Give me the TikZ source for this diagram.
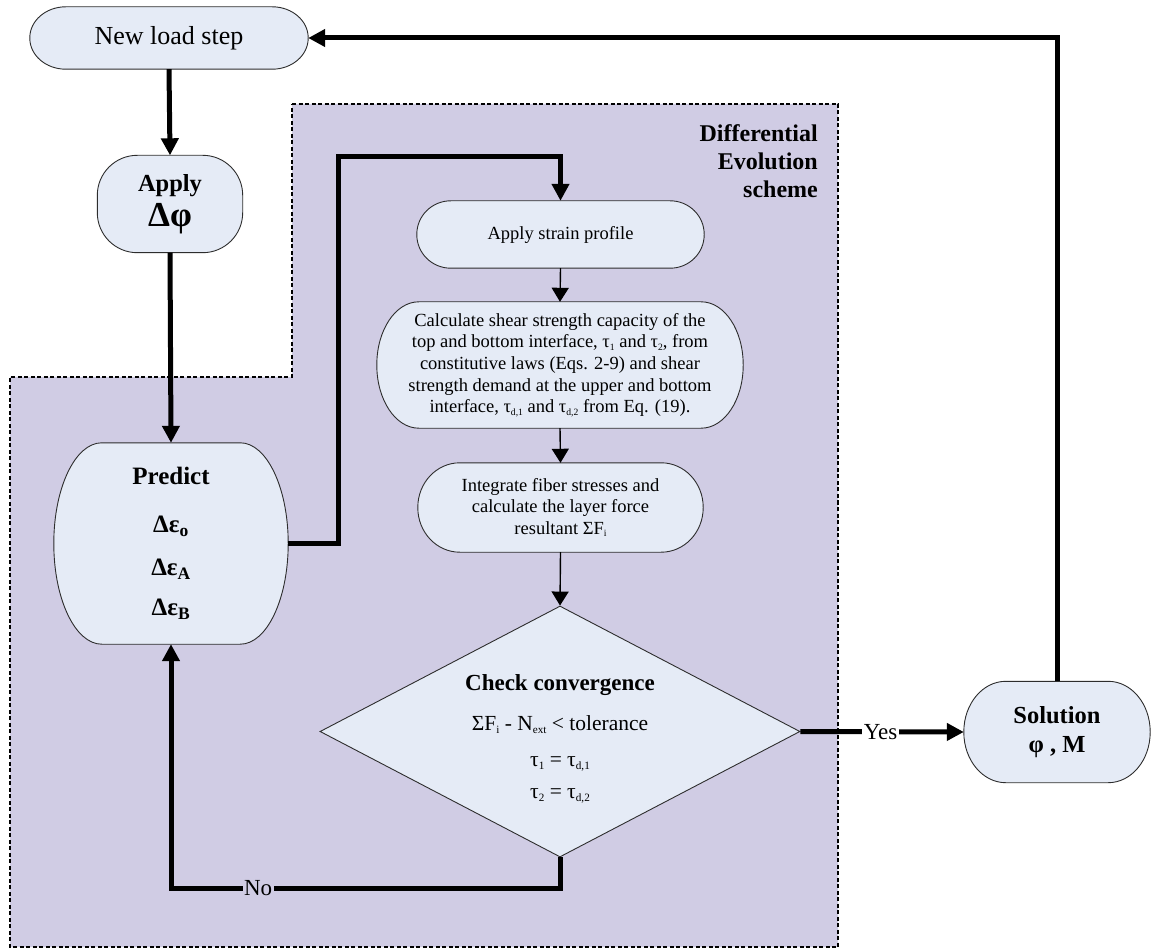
\documentclass[tikz,border=0pt]{standalone}
\usepackage{fontspec}
\usepackage{graphicx}
\setmainfont{Liberation Serif}
\usetikzlibrary{arrows.meta,calc,shapes.geometric}
\pgfdeclarelayer{back}\pgfdeclarelayer{bg}
\pgfsetlayers{back,bg,main}
\definecolor{regfill}{RGB}{208,204,228}
\definecolor{boxfill}{RGB}{229,235,246}
\definecolor{edgecol}{RGB}{45,45,45}
\newcommand\sbs[1]{\raisebox{-0.28ex}{\scalebox{0.52}{#1}}}
\newcommand\rrshape[3]{%
 \path[shp] ($(#1.north west)+(#2,0)$) -- ($(#1.north east)+(-#2,0)$)
 arc[start angle=90,end angle=0,x radius=#2,y radius=#3]
 -- ($(#1.south east)+(0,#3)$)
 arc[start angle=0,end angle=-90,x radius=#2,y radius=#3]
 -- ($(#1.south west)+(#2,0)$)
 arc[start angle=270,end angle=180,x radius=#2,y radius=#3]
 -- ($(#1.north west)+(0,-#3)$)
 arc[start angle=180,end angle=90,x radius=#2,y radius=#3]
 -- cycle;}
\begin{document}
\begin{tikzpicture}[x=1pt,y=1pt,
 txt/.style={inner sep=0pt, align=center, text=black},
 shp/.style={fill=boxfill, draw=edgecol, line width=0.9pt},
 thickarrow/.style={line width=5pt, -{Triangle[length=17pt,width=17pt]}},
 thinarrow/.style={line width=1.4pt, -{Triangle[length=14pt,width=17pt]}},
 small/.style={font=\fontsize{18.5}{21.7}\selectfont},
 lbl/.style={inner sep=1.5pt, font=\fontsize{23}{26}\selectfont}]
\useasboundingbox (0,0) rectangle (1151,-949);
\begin{pgfonlayer}{back}
\draw[fill=regfill, line width=1.8pt, dash pattern=on 4pt off 2.5pt]
 (292,-104) -- (838,-104) -- (838,-947) -- (10,-947) -- (10,-377) -- (292,-377) -- cycle;
\end{pgfonlayer}

\node[txt, minimum width=278pt, minimum height=62pt, font=\fontsize{26}{30}\selectfont] (new) at (169,-38) {New load step};
\node[txt, minimum width=145pt, minimum height=97pt, font=\bfseries\fontsize{24.5}{35}\selectfont] (apply) at (170,-204) {Apply\\{\fontsize{35}{35}\selectfont Δφ}};
\node[txt, minimum width=234pt, minimum height=201pt, font=\bfseries\fontsize{25}{40}\selectfont] (pred) at (171,-543.5)
 {Predict\\[8pt] Δε\textsubscript{o}\\[3pt] Δε\textsubscript{A}\\ Δε\textsubscript{B}};
\node[txt, anchor=east, align=right, font=\bfseries\fontsize{24}{28}\selectfont] (de) at (818,-161) {Differential\\Evolution\\scheme};
\node[txt, small, minimum width=287pt, minimum height=67pt] (aps) at (560.5,-234.5) {Apply strain profile};
\node[txt, small, minimum width=366pt, minimum height=126pt] (calc) at (560,-365)
 {Calculate shear strength capacity of the\\ top and bottom interface, τ\sbs{1} and τ\sbs{2}, from\\ constitutive laws (Eqs. 2-9) and shear\\ strength demand at the upper and bottom\\ interface, τ\sbs{d,1} and τ\sbs{d,2} from Eq. (19).};
\node[txt, small, minimum width=285pt, minimum height=89pt] (intg) at (560.5,-507.5)
 {Integrate fiber stresses and\\ calculate the layer force\\ resultant ΣF\sbs{i}};
\node[diamond, aspect=1.9, draw=edgecol, fill=boxfill, line width=0.9pt, inner sep=0pt, minimum width=480pt, minimum height=251pt, align=center, font=\fontsize{21.5}{32}\selectfont] (dia) at (560,-731.5)
 {\rule{0pt}{30pt}{\bfseries\fontsize{23}{32}\selectfont Check convergence}\\[8pt] ΣF\sbs{i} - N\sbs{ext} < tolerance\\[4pt] τ\sbs{1} = τ\sbs{d,1}\\ τ\sbs{2} = τ\sbs{d,2}};
\node[txt, minimum width=186pt, minimum height=101pt, font=\bfseries\fontsize{24.5}{29}\selectfont] (sol) at (1057,-732) {Solution\\ φ , M};

\begin{pgfonlayer}{bg}
\rrshape{new}{36}{31}
\rrshape{apply}{40}{40}
\rrshape{pred}{48}{100.5}
\rrshape{aps}{34}{33.5}
\rrshape{calc}{42}{63}
\rrshape{intg}{42}{44.5}
\rrshape{sol}{42}{50.5}
\end{pgfonlayer}

\draw[thickarrow] (new.south) -- (apply.north);
\draw[thickarrow] (apply.south) -- (pred.north);
\draw[thickarrow] (pred.east) -- ++(50,0) |- ($(aps.north)+(0,44)$) -- (aps.north);
\draw[thinarrow] (aps.south) -- (calc.north);
\draw[thinarrow] (calc.south) -- (intg.north);
\draw[thinarrow] (intg.south) -- (dia.north);
\draw[thickarrow] (dia.east) -- node[lbl, fill=white, pos=0.49] {Yes} (sol.west);
\draw[thickarrow] (dia.south) -- ++(0,-31) coordinate (nc) -- node[lbl, fill=regfill, pos=0.776] {No} (nc -| pred.south) -- (pred.south);
\draw[thickarrow] (sol.north) |- (new.east);
\end{tikzpicture}
\end{document}
